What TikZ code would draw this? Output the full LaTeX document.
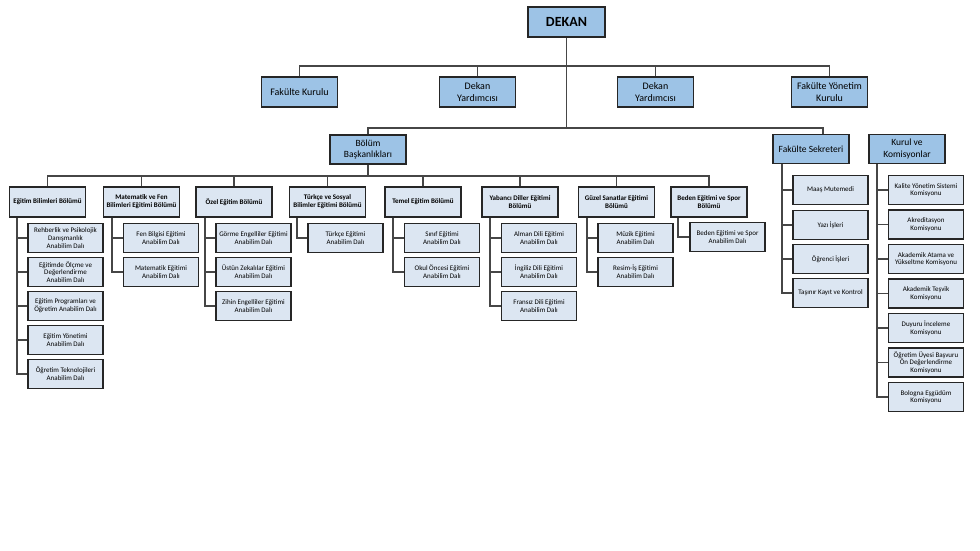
\documentclass[tikz,border=0pt]{standalone}
\usepackage{fontspec}
\setmainfont{Carlito}
\definecolor{midblue}{RGB}{157,195,230}
\definecolor{lightblue}{RGB}{220,230,242}
\definecolor{lnc}{RGB}{70,70,70}
\tikzset{
 base/.style={draw=black!85, line width=1.2pt, align=center, inner sep=0.5pt},
 dekanbox/.style={base, fill=midblue, minimum width=77pt, minimum height=30pt, font=\fontsize{14}{16}\selectfont\bfseries},
 topbox/.style={base, fill=midblue, minimum width=76pt, minimum height=30pt, font=\fontsize{10}{12}\selectfont},
 midbox/.style={base, fill=midblue, minimum width=76pt, minimum height=29pt, font=\fontsize{9.5}{11.5}\selectfont},
 deptbox/.style={base, fill=lightblue, minimum width=76pt, minimum height=30pt, font=\fontsize{7}{8}\selectfont\bfseries},
 subbox/.style={base, fill=lightblue, minimum width=75pt, minimum height=29pt, font=\fontsize{7}{7.7}\selectfont},
 conn/.style={draw=lnc, line width=1.1pt},
}
\begin{document}
\begin{tikzpicture}[x=1pt,y=-1pt]
\useasboundingbox[fill=white] (0,0) rectangle (980,551);
% level 1-2
\node[dekanbox] (dekan) at (566.5,22) {DEKAN};
\node[topbox] (fk) at (299.5,92) {Fakülte Kurulu};
\node[topbox] (dy1) at (477.5,92) {Dekan\\Yardımcısı};
\node[topbox] (dy2) at (655.5,92) {Dekan\\Yardımcısı};
\node[topbox] (fyk) at (829.5,92) {Fakülte Yönetim\\Kurulu};
\coordinate (bar1) at (0,66);
\coordinate (bar2) at (0,128);
\coordinate (bar3) at (0,176);
\coordinate (fsx) at (823,0);
\draw[conn] (dekan.south) -- (dekan.south |- bar2);
\draw[conn] (fk.north) -- (fk.north |- bar1) -- (fyk.north |- bar1) -- (fyk.north);
\draw[conn] (dy1.north) -- (dy1.north |- bar1);
\draw[conn] (dy2.north) -- (dy2.north |- bar1);
% level 3
\node[midbox] (bb) at (368,149.5) {Bölüm\\Başkanlıkları};
\node[midbox] (fs) at (811,149) {Fakülte Sekreteri};
\node[midbox] (kk) at (907,149) {Kurul ve\\Komisyonlar};
\draw[conn] (bb.north) -- (bb.north |- bar2) -- (fsx |- bar2) -- (fsx |- fs.north);
\draw[conn] (bb.south) -- (bb.south |- bar3);
% departments
\node[deptbox] (d1) at (47.5,202) {Eğitim Bilimleri Bölümü};
\node[deptbox] (d2) at (141.5,202) {Matematik ve Fen\\Bilimleri Eğitimi Bölümü};
\node[deptbox] (d3) at (234,202) {Özel Eğitim Bölümü};
\node[deptbox] (d4) at (327.5,202) {Türkçe ve Sosyal\\Bilimler Eğitimi Bölümü};
\node[deptbox] (d5) at (423,202) {Temel Eğitim Bölümü};
\node[deptbox] (d6) at (520,202) {Yabancı Diller Eğitimi\\Bölümü};
\node[deptbox] (d7) at (616.5,202) {Güzel Sanatlar Eğitimi\\Bölümü};
\node[deptbox] (d8) at (709,202) {Beden Eğitimi ve Spor\\Bölümü};
\draw[conn] (d1.north) -- (d1.north |- bar3) -- (d8.north |- bar3) -- (d8.north);
\foreach \d in {d2,d3,d4,d5,d6,d7} \draw[conn] (\d.north) -- (\d.north |- bar3);
% sub units
\node[subbox] (d1a) at (65.5,238) {Rehberlik ve Psikolojik\\Danışmanlık\\Anabilim Dalı};
\node[subbox] (d1b) at (65.5,272) {Eğitimde Ölçme ve\\Değerlendirme\\Anabilim Dalı};
\node[subbox] (d1c) at (65.5,306) {Eğitim Programları ve\\Öğretim Anabilim Dalı};
\node[subbox] (d1d) at (65.5,340) {Eğitim Yönetimi\\Anabilim Dalı};
\node[subbox] (d1e) at (65.5,374) {Öğretim Teknolojileri\\Anabilim Dalı};
\node[subbox] (d2a) at (161,238) {Fen Bilgisi Eğitimi\\Anabilim Dalı};
\node[subbox] (d2b) at (161,272) {Matematik Eğitimi\\Anabilim Dalı};
\node[subbox] (d3a) at (253.5,238) {Görme Engelliler Eğitimi\\Anabilim Dalı};
\node[subbox] (d3b) at (253.5,272) {Üstün Zekalılar Eğitimi\\Anabilim Dalı};
\node[subbox] (d3c) at (253.5,306) {Zihin Engelliler Eğitimi\\Anabilim Dalı};
\node[subbox] (d4a) at (345.5,238) {Türkçe Eğitimi\\Anabilim Dalı};
\node[subbox] (d5a) at (442,238) {Sınıf Eğitimi\\Anabilim Dalı};
\node[subbox] (d5b) at (442,272) {Okul Öncesi Eğitimi\\Anabilim Dalı};
\node[subbox] (d6a) at (539,238) {Alman Dili Eğitimi\\Anabilim Dalı};
\node[subbox] (d6b) at (539,272) {İngiliz Dili Eğitimi\\Anabilim Dalı};
\node[subbox] (d6c) at (539,306) {Fransız Dili Eğitimi\\Anabilim Dalı};
\node[subbox] (d7a) at (635.5,238) {Müzik Eğitimi\\Anabilim Dalı};
\node[subbox] (d7b) at (635.5,272) {Resim-İş Eğitimi\\Anabilim Dalı};
\node[subbox] (d8a) at (727.5,237) {Beden Eğitimi ve Spor\\Anabilim Dalı};
\node[subbox] (fsa) at (830.5,190) {Maaş Mutemedi};
\node[subbox] (fsb) at (830.5,225) {Yazı İşleri};
\node[subbox] (fsc) at (830.5,259) {Öğrenci İşleri};
\node[subbox] (fsd) at (830.5,293) {Taşınır Kayıt ve Kontrol};
\node[subbox] (kka) at (926,190) {Kalite Yönetim Sistemi\\Komisyonu};
\node[subbox] (kkb) at (926,224.5) {Akreditasyon\\Komisyonu};
\node[subbox] (kkc) at (926,259) {Akademik Atama ve\\Yükseltme Komisyonu};
\node[subbox] (kkd) at (926,293.5) {Akademik Teşvik\\Komisyonu};
\node[subbox] (kke) at (926,328) {Duyuru İnceleme\\Komisyonu};
\node[subbox] (kkf) at (926,362.5) {Öğretim Üyesi Başvuru\\Ön Değerlendirme\\Komisyonu};
\node[subbox] (kkg) at (926,397) {Bologna Eşgüdüm\\Komisyonu};
% spines
\coordinate (s1) at (17,0);
\coordinate (s2) at (112,0);
\coordinate (s3) at (205,0);
\coordinate (s4) at (297,0);
\coordinate (s5) at (393,0);
\coordinate (s6) at (490,0);
\coordinate (s7) at (587,0);
\coordinate (s8) at (678,0);
\coordinate (s9) at (782,0);
\coordinate (s10) at (877,0);
\draw[conn] (s1 |- d1.south) |- (d1e.west);
\foreach \n in {d1a,d1b,d1c,d1d} \draw[conn] (\n.west) -- (s1 |- \n.west);
\draw[conn] (s2 |- d2.south) |- (d2b.west);
\draw[conn] (d2a.west) -- (s2 |- d2a.west);
\draw[conn] (s3 |- d3.south) |- (d3c.west);
\foreach \n in {d3a,d3b} \draw[conn] (\n.west) -- (s3 |- \n.west);
\draw[conn] (s4 |- d4.south) |- (d4a.west);
\draw[conn] (s5 |- d5.south) |- (d5b.west);
\draw[conn] (d5a.west) -- (s5 |- d5a.west);
\draw[conn] (s6 |- d6.south) |- (d6c.west);
\foreach \n in {d6a,d6b} \draw[conn] (\n.west) -- (s6 |- \n.west);
\draw[conn] (s7 |- d7.south) |- (d7b.west);
\draw[conn] (d7a.west) -- (s7 |- d7a.west);
\draw[conn] (s8 |- d8.south) |- (d8a.west);
\draw[conn] (s9 |- fs.south) |- (fsd.west);
\foreach \n in {fsa,fsb,fsc} \draw[conn] (\n.west) -- (s9 |- \n.west);
\draw[conn] (s10 |- kk.south) |- (kkg.west);
\foreach \n in {kka,kkb,kkc,kkd,kke,kkf} \draw[conn] (\n.west) -- (s10 |- \n.west);
\end{tikzpicture}
\end{document}
